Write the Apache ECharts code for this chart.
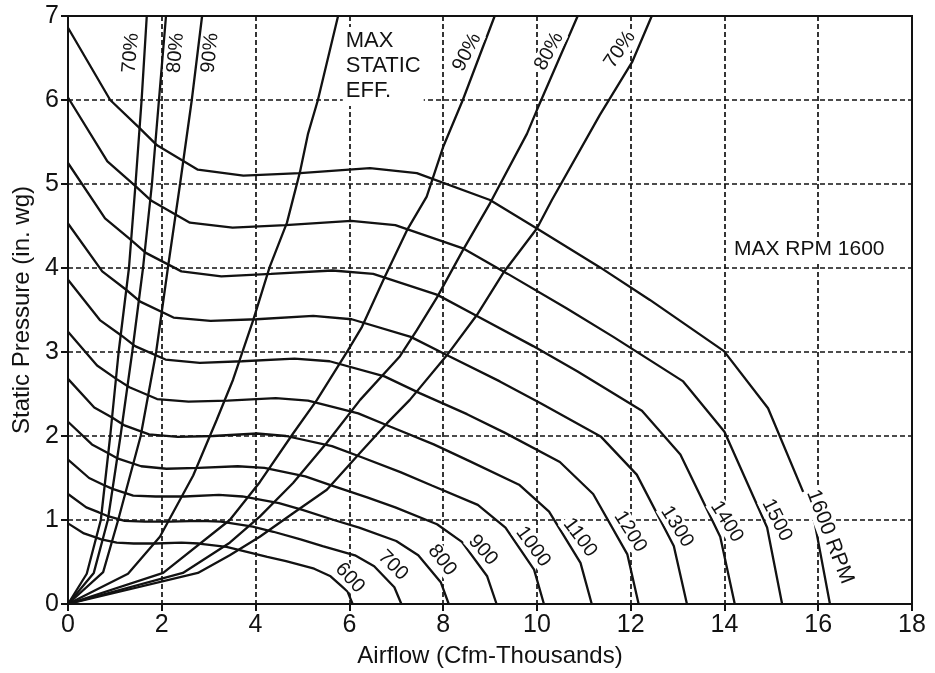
<!DOCTYPE html>
<html>
<head>
<meta charset="utf-8">
<script src="https://cdn.jsdelivr.net/npm/echarts@6/dist/echarts.min.js"></script>
<style>
  html, body { margin: 0; padding: 0; background: #fff; }
  #main { width: 935px; height: 673px; }
</style>
</head>
<body>
<div id="main"></div>
<script>
// fan curves, [airflow (thousand cfm), static pressure (in. wg)]
var rpm600 = [[0,0.96],[0.34,0.84],[0.56,0.80],[0.71,0.77],[1.04,0.73],[1.40,0.72],[1.86,0.72],[2.42,0.73],[2.79,0.72],[3.38,0.68],[3.75,0.63],[4.25,0.56],[4.65,0.51],[5.25,0.42],[5.60,0.33],[5.96,0.15],[6.07,0]];
var rpm700 = [[0,1.31],[0.39,1.15],[0.66,1.09],[0.83,1.05],[1.21,0.99],[1.64,0.98],[2.17,0.98],[2.82,0.99],[3.26,0.98],[3.94,0.92],[4.38,0.86],[4.96,0.77],[5.43,0.69],[6.12,0.58],[6.53,0.45],[6.96,0.20],[7.11,0]];
var rpm800 = [[0,1.72],[0.45,1.50],[0.75,1.42],[0.95,1.37],[1.39,1.29],[1.87,1.28],[2.48,1.28],[3.22,1.30],[3.72,1.28],[4.50,1.20],[5.00,1.12],[5.67,1.00],[6.21,0.91],[7.00,0.75],[7.47,0.58],[7.95,0.26],[8.12,0]];
var rpm900 = [[0,2.17],[0.51,1.90],[0.84,1.80],[1.07,1.73],[1.56,1.64],[2.10,1.61],[2.78,1.62],[3.62,1.64],[4.19,1.62],[5.06,1.52],[5.63,1.41],[6.38,1.27],[6.98,1.15],[7.87,0.95],[8.40,0.74],[8.94,0.33],[9.14,0]];
var rpm1000 = [[0,2.68],[0.56,2.34],[0.94,2.22],[1.19,2.13],[1.73,2.02],[2.34,1.99],[3.09,2.00],[4.03,2.03],[4.65,2.00],[5.63,1.88],[6.25,1.75],[7.09,1.57],[7.76,1.41],[8.74,1.18],[9.33,0.91],[9.94,0.41],[10.15,0]];
var rpm1100 = [[0,3.24],[0.62,2.84],[1.03,2.68],[1.31,2.58],[1.90,2.44],[2.57,2.41],[3.40,2.42],[4.43,2.45],[5.12,2.42],[6.19,2.27],[6.88,2.11],[7.80,1.90],[8.53,1.71],[9.62,1.42],[10.26,1.10],[10.93,0.49],[11.17,0]];
var rpm1200 = [[0,3.86],[0.68,3.38],[1.13,3.20],[1.43,3.07],[2.08,2.91],[2.81,2.87],[3.71,2.89],[4.83,2.92],[5.58,2.89],[6.75,2.71],[7.50,2.51],[8.51,2.26],[9.31,2.04],[10.49,1.69],[11.20,1.31],[11.93,0.59],[12.17,0]];
var rpm1300 = [[0,4.53],[0.73,3.96],[1.22,3.75],[1.54,3.60],[2.25,3.41],[3.04,3.37],[4.02,3.39],[5.23,3.43],[6.05,3.39],[7.31,3.18],[8.13,2.95],[9.21,2.65],[10.08,2.39],[11.37,1.99],[12.13,1.54],[12.92,0.69],[13.20,0]];
var rpm1400 = [[0,5.25],[0.79,4.59],[1.31,4.35],[1.66,4.18],[2.42,3.96],[3.27,3.90],[4.33,3.93],[5.64,3.97],[6.51,3.93],[7.88,3.68],[8.75,3.42],[9.92,3.07],[10.86,2.77],[12.24,2.30],[13.06,1.78],[13.91,0.80],[14.22,0]];
var rpm1500 = [[0,6.03],[0.84,5.27],[1.41,4.99],[1.78,4.80],[2.60,4.54],[3.51,4.48],[4.64,4.51],[6.04,4.56],[6.98,4.51],[8.44,4.23],[9.38,3.93],[10.63,3.52],[11.63,3.18],[13.12,2.65],[14.00,2.05],[14.91,0.91],[15.23,0]];
var rpm1600 = [[0,6.86],[0.90,6.00],[1.50,5.68],[1.90,5.46],[2.77,5.17],[3.74,5.10],[4.95,5.13],[6.44,5.19],[7.44,5.13],[9.00,4.81],[10.00,4.47],[11.34,4.01],[12.41,3.62],[13.99,3.01],[14.93,2.33],[15.90,1.04],[16.25,0]];

// efficiency (system) curves
var eff70L = [[0,0],[0.40,0.36],[0.70,1.0],[0.90,2.0],[1.08,3.0],[1.30,4.0],[1.44,5.0],[1.57,6.0],[1.68,7.0]];
var eff80L = [[0,0],[0.55,0.37],[0.85,1.0],[1.12,2.0],[1.37,3.0],[1.60,4.0],[1.79,5.0],[1.94,6.0],[2.09,7.0]];
var eff90L = [[0,0],[0.75,0.38],[1.07,1.0],[1.55,2.0],[1.88,3.0],[2.13,4.0],[2.39,5.0],[2.64,6.0],[2.86,7.0]];
var effMax = [[0,0],[1.28,0.36],[1.96,0.80],[2.67,1.53],[3.17,2.19],[3.52,2.67],[3.95,3.38],[4.30,4.01],[4.67,4.54],[4.95,5.15],[5.12,5.60],[5.33,6.00],[5.76,7.00]];
var eff90R = [[0,0],[2.03,0.37],[3.45,1.00],[4.09,1.45],[4.80,2.03],[5.31,2.43],[5.97,3.02],[6.27,3.30],[6.76,3.90],[7.23,4.45],[7.65,4.85],[8.00,5.44],[8.42,6.00],[9.10,7.00]];
var eff80R = [[0,0],[2.45,0.37],[3.45,0.73],[4.09,1.04],[4.80,1.44],[5.52,1.92],[6.23,2.43],[7.08,2.95],[7.44,3.26],[7.87,3.65],[8.42,4.21],[9.00,4.77],[9.79,5.60],[10.00,5.88],[10.87,7.00]];
var eff70R = [[0,0],[2.77,0.37],[3.45,0.58],[4.09,0.80],[4.80,1.08],[5.52,1.36],[6.23,1.80],[6.80,2.15],[7.29,2.43],[8.08,2.96],[8.72,3.44],[9.28,3.94],[10.00,4.47],[10.32,4.81],[11.34,5.82],[12.03,6.45],[12.45,7.00]];

var fanCurves = [rpm600, rpm700, rpm800, rpm900, rpm1000, rpm1100, rpm1200, rpm1300, rpm1400, rpm1500, rpm1600];
var effCurves = [eff70L, eff80L, eff90L, effMax, eff90R, eff80R, eff70R];

// curve labels: text, x, y, angle (deg, counter-clockwise), font size
var rpmLabels = [
  ['600', 6.01, 0.31, -47, 20],
  ['700', 6.93, 0.46, -45, 20],
  ['800', 7.98, 0.52, -52, 20],
  ['900', 8.85, 0.64, -48, 20],
  ['1000', 9.92, 0.68, -54, 20],
  ['1100', 10.92, 0.79, -53, 20],
  ['1200', 11.99, 0.86, -58, 20],
  ['1300', 12.99, 0.92, -58, 20],
  ['1400', 14.05, 0.98, -58, 20],
  ['1500', 15.12, 1.00, -63, 20],
  ['1600 RPM', 16.25, 0.80, -69, 21]
];
var effLabels = [
  ['70%', 1.34, 6.56, 85, 20],
  ['80%', 2.30, 6.56, 85, 20],
  ['90%', 3.03, 6.56, 84, 20],
  ['90%', 8.51, 6.57, 63, 20],
  ['80%', 10.26, 6.58, 62, 20],
  ['70%', 11.77, 6.60, 56, 20]
];

var xTicks = { min: 0, max: 18, interval: 2 };
var yTicks = { min: 0, max: 7, interval: 1 };

var FONT = '"Liberation Sans", Arial, sans-serif';
var INK = '#121212';

var chartDom = document.getElementById('main');
var myChart = echarts.init(chartDom);

var series = [];
fanCurves.concat(effCurves).forEach(function (d) {
  series.push({
    type: 'line',
    data: d,
    showSymbol: false,
    silent: true,
    lineStyle: { color: INK, width: 2.3 }
  });
});

var axisCommon = {
  axisLine: { show: true, lineStyle: { color: INK, width: 2 } },
  axisTick: { show: true, inside: false, length: 7, lineStyle: { color: INK, width: 2 } },
  splitLine: {
    show: true, showMinLine: false, showMaxLine: false,
    lineStyle: { color: INK, width: 1.7, type: [5, 3] }
  },
  nameLocation: 'middle',
  nameTextStyle: { color: INK, fontSize: 24, fontFamily: FONT }
};

var option = {
  animation: false,
  backgroundColor: '#fff',
  grid: {
    left: 68, right: 23, top: 16, bottom: 69,
    show: true, borderColor: INK, borderWidth: 2, backgroundColor: 'transparent'
  },
  xAxis: Object.assign({
    type: 'value',
    min: xTicks.min, max: xTicks.max, interval: xTicks.interval,
    name: 'Airflow (Cfm-Thousands)',
    nameGap: 40,
    axisLabel: { color: INK, fontSize: 25, fontFamily: FONT, margin: 9 }
  }, axisCommon),
  yAxis: Object.assign({
    type: 'value',
    min: yTicks.min, max: yTicks.max, interval: yTicks.interval,
    name: 'Static Pressure (in. wg)',
    nameGap: 34,
    axisLabel: { color: INK, fontSize: 25, fontFamily: FONT, margin: 9 }
  }, axisCommon),
  series: series
};
option && myChart.setOption(option);

// labels placed at data coordinates
function textAt(label, x, y, deg, size, align) {
  var p = myChart.convertToPixel({ gridIndex: 0 }, [x, y]);
  return {
    type: 'text',
    x: p[0], y: p[1],
    rotation: deg * Math.PI / 180,
    z: 100,
    style: {
      text: label,
      font: size + 'px ' + FONT,
      fill: INK,
      align: align || 'center',
      verticalAlign: 'middle',
      backgroundColor: '#fff',
      padding: [0, 2]
    }
  };
}

var graphics = [];
rpmLabels.concat(effLabels).forEach(function (l) {
  graphics.push(textAt(l[0], l[1], l[2], l[3], l[4]));
});

var maxEff = textAt('MAX\nSTATIC\nEFF.', 5.86, 6.40, 0, 22, 'left');
maxEff.style.lineHeight = 25;
maxEff.style.padding = [2, 3];
graphics.push(maxEff);

var maxRpm = textAt('MAX RPM 1600', 14.16, 4.22, 0, 21, 'left');
maxRpm.style.padding = [1, 2];
graphics.push(maxRpm);

myChart.setOption({ graphic: graphics });
</script>
</body>
</html>
